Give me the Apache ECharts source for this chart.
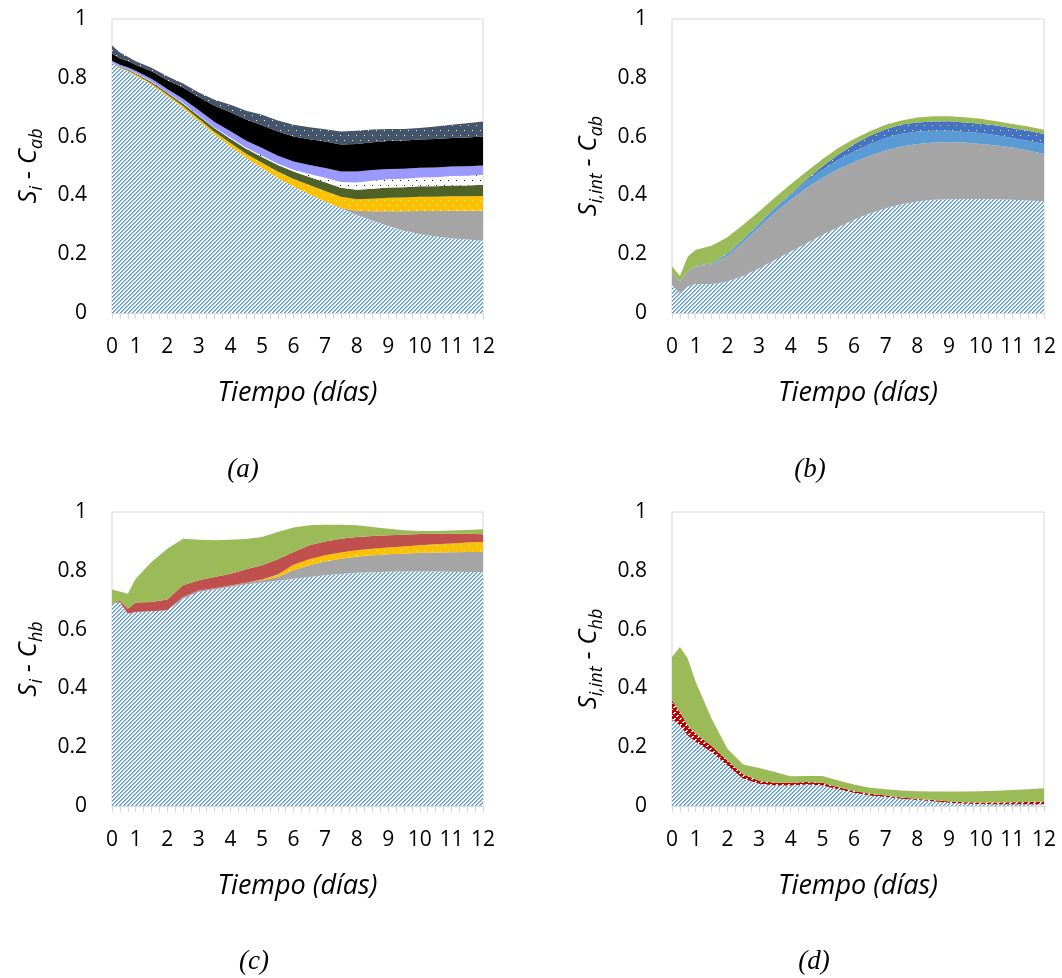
<!DOCTYPE html>
<html>
<head>
<meta charset="utf-8">
<script src="https://cdn.jsdelivr.net/npm/echarts@6/dist/echarts.min.js"></script>
<style>
  html, body { margin: 0; padding: 0; background: #fff; }
  #chart { width: 1062px; height: 978px; }
</style>
</head>
<body>
<div id="chart"></div>
<script>
// ---- categories (time points, days) ----
const CATS = ['0','0.33','0.67','1','1.25','1.5','1.75','2','2.25','2.5','2.75','3','3.25','3.5','3.75','4',
  '4.25','4.5','4.75','5','5.25','5.5','5.75','6','6.25','6.5','6.75','7','7.25','7.5','7.75','8',
  '8.25','8.5','8.75','9','9.25','9.5','9.75','10','10.25','10.5','10.75','11','11.25','11.5','11.75','12'];
const X_TICK_LABELS = ['0','1','2','3','4','5','6','7','8','9','10','11','12'];
// sampled time points at which values were read
const T = ['0','0.33','0.67','1','1.5','2','2.5','3','3.5','4','4.5','5','5.5','6','6.5','7','7.5','8','8.5','9','9.5','10','10.5','11','11.5','12'];

// ---- panel (a): Si - Cab (stacked, bottom to top) ----
const a_hatch  = [.850,.833,.822,.807,.776,.737,.697,.652,.606,.566,.527,.493,.459,.430,.404,.379,.356,.334,.314,.296,.280,.269,.260,.254,.250,.246];
const a_gray   = [0,0,0,0,0,0,0,0,0,0,0,0,0,0,0,0,.001,.014,.032,.050,.066,.078,.087,.094,.098,.102];
const a_gold   = [0,.002,.003,.004,.005,.006,.007,.008,.010,.012,.015,.018,.022,.026,.031,.036,.038,.039,.043,.046,.047,.048,.048,.049,.049,.050];
const a_olive  = [.001,.002,.003,.004,.005,.006,.008,.010,.012,.015,.017,.020,.022,.025,.028,.030,.031,.032,.034,.035,.035,.036,.036,.037,.037,.038];
const a_dots   = [.001,.001,.001,.001,.001,.001,.002,.002,.002,.003,.003,.004,.005,.006,.010,.015,.020,.025,.027,.028,.029,.030,.031,.032,.033,.034];
const a_lav    = [.006,.006,.007,.008,.010,.012,.015,.018,.020,.022,.024,.026,.027,.028,.030,.033,.035,.037,.036,.035,.034,.033,.033,.032,.032,.032];
const a_black  = [.025,.022,.021,.020,.025,.030,.038,.045,.055,.065,.072,.078,.082,.085,.088,.090,.092,.094,.095,.095,.096,.096,.097,.097,.098,.098];
const a_slate  = [.027,.020,.015,.012,.012,.013,.014,.015,.020,.025,.030,.035,.038,.040,.041,.042,.044,.045,.043,.041,.039,.039,.042,.045,.048,.051];

// ---- panel (b): Si,int - Cab ----
const b_hatch  = [.095,.068,.090,.099,.098,.107,.126,.152,.180,.209,.237,.266,.292,.317,.339,.356,.370,.379,.385,.387,.388,.388,.387,.385,.383,.380];
const b_gray   = [.040,.039,.051,.059,.068,.087,.115,.140,.162,.176,.188,.193,.197,.196,.196,.197,.196,.196,.195,.194,.192,.187,.183,.178,.170,.161];
const b_lblue  = [.001,.001,.001,.002,.003,.007,.010,.011,.014,.017,.022,.028,.032,.036,.040,.042,.044,.042,.040,.039,.036,.037,.035,.032,.033,.034];
const b_bdots  = [0,0,0,0,0,.001,.001,.001,.002,.003,.006,.011,.017,.025,.028,.030,.031,.031,.031,.032,.032,.032,.033,.033,.034,.034];
const b_green  = [.022,.019,.050,.055,.060,.056,.048,.041,.035,.033,.028,.025,.023,.018,.015,.015,.014,.017,.018,.017,.018,.017,.014,.015,.014,.014];

// ---- panel (c): Si - Chb ----
const c_hatch  = [.688,.694,.654,.660,.662,.666,.705,.728,.736,.745,.753,.760,.766,.773,.779,.785,.789,.793,.795,.797,.798,.798,.798,.797,.796,.795];
const c_gray   = [0,0,0,0,0,0,.006,.005,.005,.005,.006,.008,.013,.029,.040,.047,.052,.055,.058,.059,.060,.063,.064,.066,.068,.069];
const c_gold   = [0,0,0,0,0,0,0,0,0,0,0,.002,.008,.019,.020,.021,.021,.022,.022,.023,.025,.026,.028,.030,.032,.034];
const c_red    = [0,.005,.017,.032,.032,.036,.040,.035,.038,.040,.046,.049,.052,.043,.048,.047,.047,.045,.043,.042,.040,.038,.036,.033,.030,.026];
const c_green  = [.048,.031,.051,.081,.136,.173,.158,.138,.125,.116,.103,.096,.093,.083,.068,.057,.048,.040,.031,.022,.015,.010,.009,.011,.013,.017];

// ---- panel (d): Si,int - Chb ----
const d_hatch  = [.297,.274,.240,.218,.184,.138,.093,.076,.070,.070,.073,.070,.057,.045,.036,.031,.025,.020,.016,.011,.008,.007,.006,.006,.006,.006];
const d_red    = [.062,.046,.034,.028,.020,.017,.015,.010,.009,.009,.009,.009,.007,.006,.006,.005,.004,.004,.004,.004,.005,.005,.006,.007,.008,.009];
const d_green  = [.148,.221,.227,.176,.093,.040,.033,.043,.037,.022,.020,.023,.023,.022,.020,.021,.024,.026,.029,.034,.036,.038,.040,.041,.043,.045];

// ---- pattern helpers ----
function hexToRgb(h) { const n = parseInt(h.slice(1), 16); return [(n >> 16) & 255, (n >> 8) & 255, n & 255]; }
function makePattern(w, h, bg, colorFn) {
  const c = document.createElement('canvas'); c.width = w; c.height = h;
  const ctx = c.getContext('2d'); const img = ctx.createImageData(w, h);
  for (let y = 0; y < h; y++) for (let x = 0; x < w; x++) {
    const col = hexToRgb(colorFn(x, y) || bg); const k = (y * w + x) * 4;
    img.data[k] = col[0]; img.data[k+1] = col[1]; img.data[k+2] = col[2]; img.data[k+3] = 255;
  }
  ctx.putImageData(img, 0, 0);
  return { image: c, repeat: 'repeat' };
}
// "/" diagonal hatch: blue pixel line with a softer edge on white
const hatch = makePattern(4, 4, '#ffffff', (x, y) => {
  const r = (x + y) % 4;
  return r === 0 ? '#5b9bd5' : (r === 1 ? '#8dbbe6' : null);
});
const dotAt = (x, y) => (x === 0 && y === 0) || (x === 4 && y === 5);
const goldDots  = makePattern(8, 10, '#ffc000', (x, y) => dotAt(x, y) ? '#ffffff' : null);
const slateDots = makePattern(8, 10, '#44546a', (x, y) => dotAt(x, y) ? '#ffffff' : null);
const whiteDots = makePattern(8, 10, '#ffffff', (x, y) => dotAt(x, y) ? '#000000' : null);
const blueDots  = makePattern(8, 10, '#4472c4', (x, y) => dotAt(x, y) ? '#ffffff' : null);
const redPat    = makePattern(6, 6, '#c00000', (x, y) => (((x + y) % 6) < 2 && (y % 3 !== 0)) ? '#ffffff' : null);

const FONT = 'Open Sans';
const idx = T.map(t => CATS.indexOf(t));
function pts(vals) { return vals.map((v, i) => [idx[i], v]); }

function ser(g, stack, vals, fill, base) {
  return {
    type: 'line', xAxisIndex: g, yAxisIndex: g, stack: stack, data: pts(vals),
    symbol: 'none', showSymbol: false, silent: true,
    lineStyle: { width: 0 }, itemStyle: { color: base },
    areaStyle: { color: fill, opacity: 1 }, emphasis: { disabled: true }
  };
}

const grids = [
  { left: 112, top: 19, width: 371, height: 294 },
  { left: 672, top: 19, width: 372, height: 294 },
  { left: 112, top: 512, width: 371, height: 294 },
  { left: 672, top: 512, width: 372, height: 294 }
].map(g => Object.assign({ show: true, borderColor: '#d9d9d9', borderWidth: 1, backgroundColor: '#fff' }, g));

const yNames = ['{m|S}{s|i}{m| - C}{s|ab}', '{m|S}{s|i,int}{m| - C}{s|ab}', '{m|S}{s|i}{m| - C}{s|hb}', '{m|S}{s|i,int}{m| - C}{s|hb}'];

const xAxes = [0,1,2,3].map(i => ({
  type: 'category', gridIndex: i, data: CATS, boundaryGap: false,
  axisLine: { show: true, lineStyle: { color: '#d9d9d9', width: 1 } },
  axisTick: { show: true, interval: 0, length: 6, lineStyle: { color: '#d9d9d9' } },
  axisLabel: { interval: 0, margin: 24, color: '#000', fontSize: 21, fontFamily: FONT,
    formatter: v => (X_TICK_LABELS.indexOf(v) >= 0 ? v : '') },
  name: 'Tiempo (días)', nameLocation: 'middle', nameGap: 67,
  nameTextStyle: { fontSize: 27, fontStyle: 'italic', color: '#000', fontFamily: FONT },
  splitLine: { show: false }
}));
const yAxes = [0,1,2,3].map(i => ({
  type: 'value', gridIndex: i, min: 0, max: 1, interval: 0.2,
  axisLine: { show: false }, axisTick: { show: false }, splitLine: { show: false },
  axisLabel: { margin: 25, color: '#000', fontSize: 21, fontFamily: FONT },
  name: yNames[i], nameLocation: 'middle', nameGap: 66,
  nameTextStyle: {
    color: '#000', fontFamily: FONT,
    rich: {
      m: { fontSize: 26, fontStyle: 'italic', fontFamily: FONT, color: '#000', lineHeight: 34 },
      s: { fontSize: 18, fontStyle: 'italic', fontFamily: FONT, color: '#000', lineHeight: 14, verticalAlign: 'bottom' }
    }
  }
}));

const series = [
  ser(0, 'a', a_hatch, hatch, '#5b9bd5'),
  ser(0, 'a', a_gray, '#a5a5a5', '#a5a5a5'),
  ser(0, 'a', a_gold, goldDots, '#ffc000'),
  ser(0, 'a', a_olive, '#4f6228', '#4f6228'),
  ser(0, 'a', a_dots, whiteDots, '#000000'),
  ser(0, 'a', a_lav, '#9999ff', '#9999ff'),
  ser(0, 'a', a_black, '#000000', '#000000'),
  ser(0, 'a', a_slate, slateDots, '#44546a'),

  ser(1, 'b', b_hatch, hatch, '#5b9bd5'),
  ser(1, 'b', b_gray, '#a5a5a5', '#a5a5a5'),
  ser(1, 'b', b_lblue, '#5b9bd5', '#5b9bd5'),
  ser(1, 'b', b_bdots, blueDots, '#4472c4'),
  ser(1, 'b', b_green, '#9bbb59', '#9bbb59'),

  ser(2, 'c', c_hatch, hatch, '#5b9bd5'),
  ser(2, 'c', c_gray, '#a5a5a5', '#a5a5a5'),
  ser(2, 'c', c_gold, goldDots, '#ffc000'),
  ser(2, 'c', c_red, '#c0504d', '#c0504d'),
  ser(2, 'c', c_green, '#9bbb59', '#9bbb59'),

  ser(3, 'd', d_hatch, hatch, '#5b9bd5'),
  ser(3, 'd', d_red, redPat, '#c00000'),
  ser(3, 'd', d_green, '#9bbb59', '#9bbb59')
];

const panelLabels = [['(a)', 243, 470], ['(b)', 810, 470], ['(c)', 254, 962], ['(d)', 814, 962]];

const chart = echarts.init(document.getElementById('chart'), null, { renderer: 'canvas' });
chart.setOption({
  animation: false,
  backgroundColor: '#fff',
  grid: grids, xAxis: xAxes, yAxis: yAxes, series: series,
  graphic: panelLabels.map(p => ({
    type: 'text', x: p[1], y: p[2],
    style: { text: p[0], fontFamily: 'Liberation Serif', fontStyle: 'italic', fontSize: 27,
      fill: '#000', textAlign: 'center', textVerticalAlign: 'middle' }
  }))
});
</script>
</body>
</html>
